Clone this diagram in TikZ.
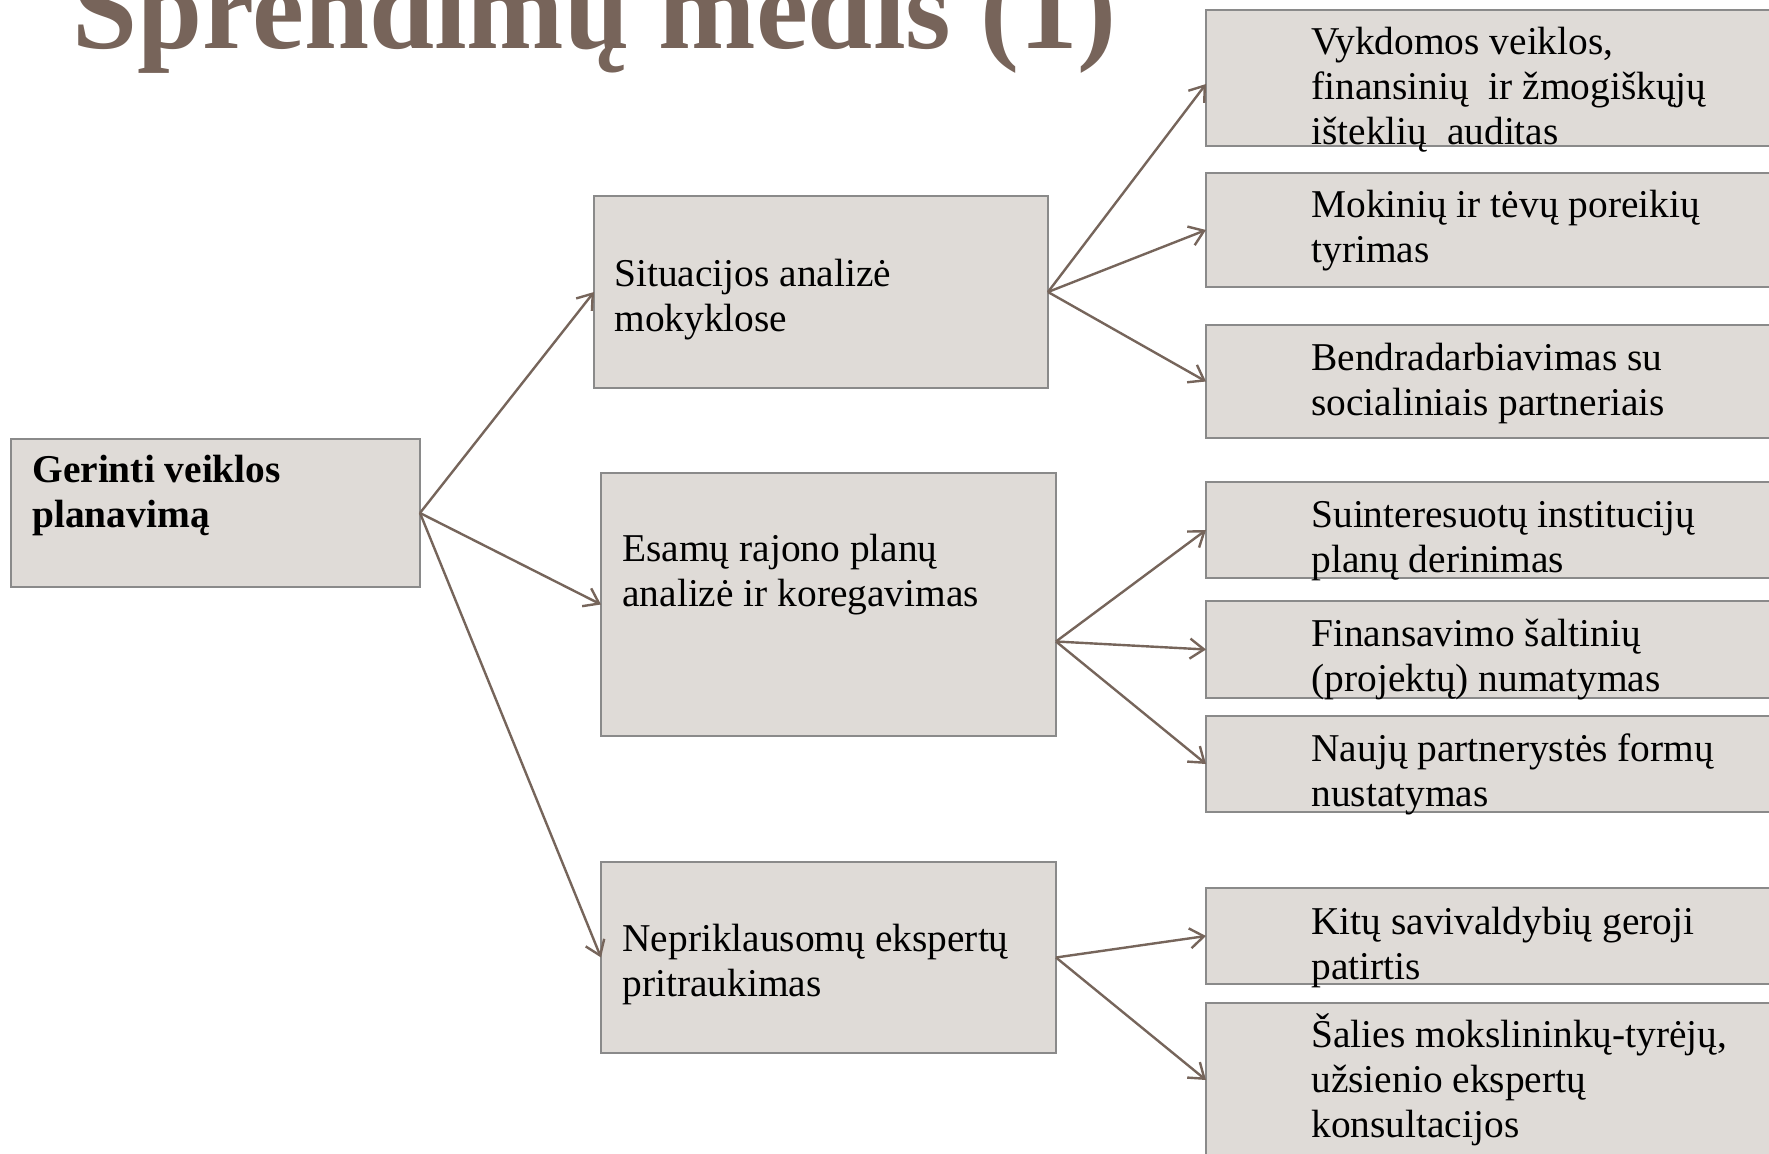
\documentclass[tikz,border=0pt]{standalone}
\usepackage{fontspec}
\setmainfont{Liberation Serif}
\usetikzlibrary{arrows.meta}
\definecolor{titlec}{RGB}{119,100,90}
\definecolor{arrc}{RGB}{118,101,91}
\definecolor{boxfill}{RGB}{223,219,215}
\definecolor{boxdraw}{RGB}{138,138,138}
\tikzset{
  box/.style={draw=boxdraw, fill=boxfill, line width=1.4pt, rectangle, inner sep=0pt, outer sep=0pt, anchor=north west},
  lbl/.style={anchor=base west, inner sep=0pt, font=\fontsize{19.7pt}{22.5pt}\selectfont},
  ttl/.style={anchor=base west, inner sep=0pt, text=titlec, font=\fontsize{58.5pt}{60pt}\selectfont\bfseries},
  conn/.style={draw=arrc, line width=1.2pt, -{Straight Barb[length=7pt,width=10pt]}},
}
\newcommand{\lines}[1]{\parbox[t]{300pt}{\raggedright #1}}
\begin{document}
\begin{tikzpicture}[x=0.5pt, y=-0.5pt]
\useasboundingbox (0,0) rectangle (1769,1154);
% title
\node[ttl] (title) at (72,49) {Sprendimų medis (1)};
% boxes
\node[box, minimum width=204.5pt, minimum height=74pt] (root) at (11,439) {};
\node[box, minimum width=227pt, minimum height=96pt] (mid1) at (594,196) {};
\node[box, minimum width=227.5pt, minimum height=131.5pt] (mid2) at (601,473) {};
\node[box, minimum width=227.5pt, minimum height=95.5pt] (mid3) at (601,862) {};
\node[box, minimum width=290pt, minimum height=68pt] (r1) at (1206,10) {};
\node[box, minimum width=290pt, minimum height=57pt] (r2) at (1206,173) {};
\node[box, minimum width=290pt, minimum height=56.5pt] (r3) at (1206,325) {};
\node[box, minimum width=290pt, minimum height=48pt] (r4) at (1206,482) {};
\node[box, minimum width=290pt, minimum height=48.5pt] (r5) at (1206,601) {};
\node[box, minimum width=290pt, minimum height=48pt] (r6) at (1206,716) {};
\node[box, minimum width=290pt, minimum height=48pt] (r7) at (1206,888) {};
\node[box, minimum width=290pt, minimum height=77pt] (r8) at (1206,1003) {};
% texts
\node[lbl] (t0) at (32,483) {\lines{\bfseries Gerinti veiklos\\planavimą}};
\node[lbl] (t1) at (614,287) {\lines{Situacijos analizė\\mokyklose}};
\node[lbl] (t2) at (622,562) {\lines{Esamų rajono planų\\analizė ir koregavimas}};
\node[lbl] (t3) at (622,952) {\lines{Nepriklausomų ekspertų\\pritraukimas}};
\node[lbl] (t4) at (1311,55) {\lines{Vykdomos veiklos,\\finansinių~ ir žmogiškųjų\\išteklių~ auditas}};
\node[lbl] (t5) at (1311,218) {\lines{Mokinių ir tėvų poreikių\\tyrimas}};
\node[lbl] (t6) at (1311,371) {\lines{Bendradarbiavimas su\\socialiniais partneriais}};
\node[lbl] (t7) at (1311,528) {\lines{Suinteresuotų institucijų\\planų derinimas}};
\node[lbl] (t8) at (1311,647) {\lines{Finansavimo šaltinių\\(projektų) numatymas}};
\node[lbl] (t9) at (1311,762) {\lines{Naujų partnerystės formų\\nustatymas}};
\node[lbl] (t10) at (1311,935) {\lines{Kitų savivaldybių geroji\\patirtis}};
\node[lbl] (t11) at (1311,1047) {\lines{Šalies mokslininkų-tyrėjų,\\užsienio ekspertų\\konsultacijos}};
% connectors
\draw[conn] (root.east) -- (mid1.west);
\draw[conn] (root.east) -- (mid2.west);
\draw[conn] (root.east) -- (mid3.west);
\draw[conn] (mid1.east) -- ([yshift=-3pt]r1.west);
\draw[conn] (mid1.east) -- (r2.west);
\draw[conn] (mid1.east) -- (r3.west);
\draw[conn] ([yshift=-18.5pt]mid2.east) -- (r4.west);
\draw[conn] ([yshift=-18.5pt]mid2.east) -- (r5.west);
\draw[conn] ([yshift=-18.5pt]mid2.east) -- (r6.west);
\draw[conn] (mid3.east) -- (r7.west);
\draw[conn] (mid3.east) -- (r8.west);
\end{tikzpicture}
\end{document}
